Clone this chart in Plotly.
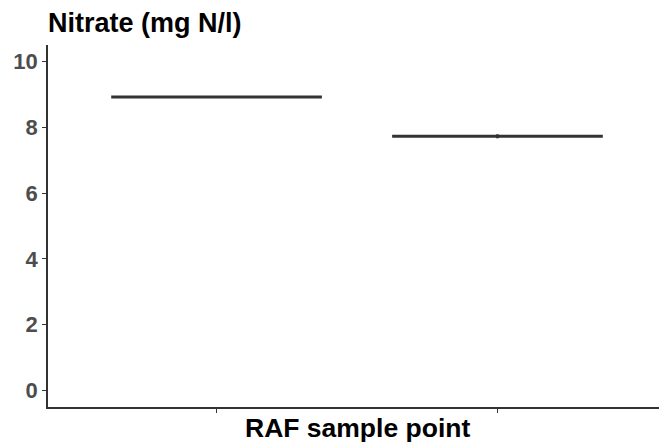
import plotly.graph_objects as go

# Data
sample_points = [1, 2]
tick_labels = ["", ""]
q1_vals = [8.92, 7.73]
median_vals = [8.92, 7.73]
q3_vals = [8.92, 7.73]
lower_fence = [8.92, 7.67]
upper_fence = [8.92, 7.79]
y_ticks = [0, 2, 4, 6, 8, 10]

fig = go.Figure()
fig.add_trace(go.Box(
    x=sample_points,
    q1=q1_vals, median=median_vals, q3=q3_vals,
    lowerfence=lower_fence, upperfence=upper_fence,
    width=0.75,
    whiskerwidth=0,
    line=dict(color="#333333", width=3),
    fillcolor="white",
    boxpoints=False,
    showlegend=False,
    hoverinfo="skip",
))

FONT = "Liberation Sans, Arial, sans-serif"

# page body has an 8px default margin, so the figure is sized to the remaining area
fig.update_layout(
    width=659, height=439,
    margin=dict(l=40, r=1, t=37, b=40, autoexpand=False),
    paper_bgcolor="white", plot_bgcolor="white",
    font=dict(family=FONT),
    xaxis=dict(
        range=[0.4, 2.6], tickvals=sample_points, ticktext=tick_labels,
        showline=True, linecolor="#333333", linewidth=1.5,
        ticks="outside", ticklen=4, tickcolor="#333333", tickwidth=1,
        showgrid=False, zeroline=False, automargin=False,
    ),
    yaxis=dict(
        range=[-0.5, 10.5], tickvals=y_ticks,
        tickfont=dict(size=22, color="#4d4d4d", family=FONT, weight="bold"),
        showline=True, linecolor="#333333", linewidth=1.5,
        ticks="outside", ticklen=4, tickcolor="#333333", tickwidth=1,
        showgrid=False, zeroline=False, automargin=False,
    ),
    annotations=[
        dict(text="<b>Nitrate (mg N/l)</b>", xref="paper", yref="paper",
             x=0, y=1, xanchor="left", yanchor="bottom", yshift=5, xshift=-2,
             showarrow=False, font=dict(size=27, color="black", family=FONT)),
        dict(text="<b>RAF sample point</b>", xref="paper", yref="paper",
             x=0.5, y=0, xanchor="center", yanchor="top", yshift=-4,
             showarrow=False, font=dict(size=26.5, color="black", family=FONT)),
    ],
)

fig.write_html("out.html")
